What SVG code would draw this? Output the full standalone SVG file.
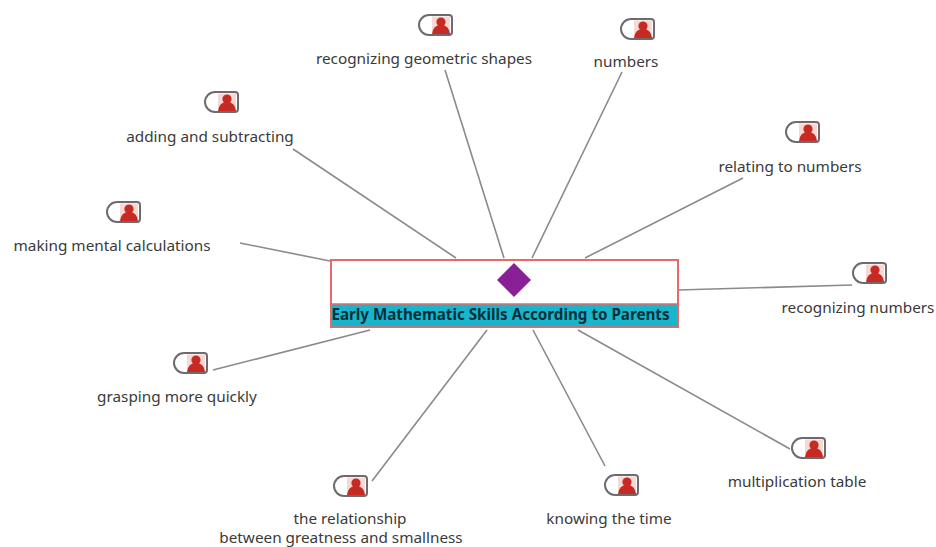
<svg xmlns="http://www.w3.org/2000/svg" width="936" height="547" viewBox="0 0 936 547">
<style>
text{font-family:"Noto Sans","Open Sans","DejaVu Sans",sans-serif;font-size:15.300px;fill:#3a3a3a;text-anchor:middle}
.t{font-weight:700;fill:#04303c;font-size:15.200px}
.c line{stroke:#8a8a8a;stroke-width:1.6;fill:none}
.f{fill:#fff;stroke:#6f6a70;stroke-width:2}
.p{fill:#c62a22}
</style>
<defs>
<g id="ic">
<path class="f" d="M-7-10H13a3 3 0 0 1 3 3V7a3 3 0 0 1-3 3H-7a10 10 0 0 1 0-20Z"/>
<rect x="-4" y="-8.500" width="18" height="17" fill="#f6d8d4"/>
<circle class="p" cx="5" cy="-3" r="4.600"/>
<path class="p" d="M-4 9Q-3 0 5 0Q13 0 14 9Z"/>
</g>
</defs>
<rect width="936" height="547" fill="#fff"/>
<g class="c">
<line x1="445" y1="70" x2="504" y2="258"/>
<line x1="622" y1="72" x2="532" y2="258"/>
<line x1="743" y1="178" x2="585" y2="258"/>
<line x1="293" y1="149" x2="456" y2="258"/>
<line x1="240" y1="243" x2="330" y2="261"/>
<line x1="678" y1="290" x2="852" y2="285"/>
<line x1="213" y1="370" x2="370" y2="330"/>
<line x1="372" y1="481" x2="487" y2="330"/>
<line x1="605" y1="466" x2="533" y2="330"/>
<line x1="790" y1="449" x2="578" y2="330"/>
</g>
<g id="center">
<rect x="331" y="260" width="347" height="67" fill="#fff" stroke="#e8686c" stroke-width="2"/>
<rect x="331" y="304" width="347" height="23" fill="#19b6cb" stroke="#e8686c" stroke-width="1.500"/>
<path d="M514 263L531 280L514 297L497 280Z" fill="#8a2096"/>
<text class="t" x="500.500" y="320">Early Mathematic Skills According to Parents</text>
</g>
<g id="n1"><use href="#ic" x="436" y="25"/><text x="424" y="64">recognizing geometric shapes</text></g>
<g id="n2"><use href="#ic" x="638" y="29"/><text x="626" y="67">numbers</text></g>
<g id="n3"><use href="#ic" x="803" y="132"/><text x="790" y="172">relating to numbers</text></g>
<g id="n4"><use href="#ic" x="222" y="102"/><text x="210" y="142">adding and subtracting</text></g>
<g id="n5"><use href="#ic" x="124" y="212"/><text x="112" y="251">making mental calculations</text></g>
<g id="n6"><use href="#ic" x="870" y="273"/><text x="858" y="313">recognizing numbers</text></g>
<g id="n7"><use href="#ic" x="191" y="363"/><text x="177" y="402">grasping more quickly</text></g>
<g id="n8"><use href="#ic" x="351" y="486"/><text x="350" y="524">the relationship</text><text x="341" y="543">between greatness and smallness</text></g>
<g id="n9"><use href="#ic" x="622" y="485"/><text x="609" y="524">knowing the time</text></g>
<g id="n10"><use href="#ic" x="809" y="448"/><text x="797" y="487">multiplication table</text></g>
</svg>
